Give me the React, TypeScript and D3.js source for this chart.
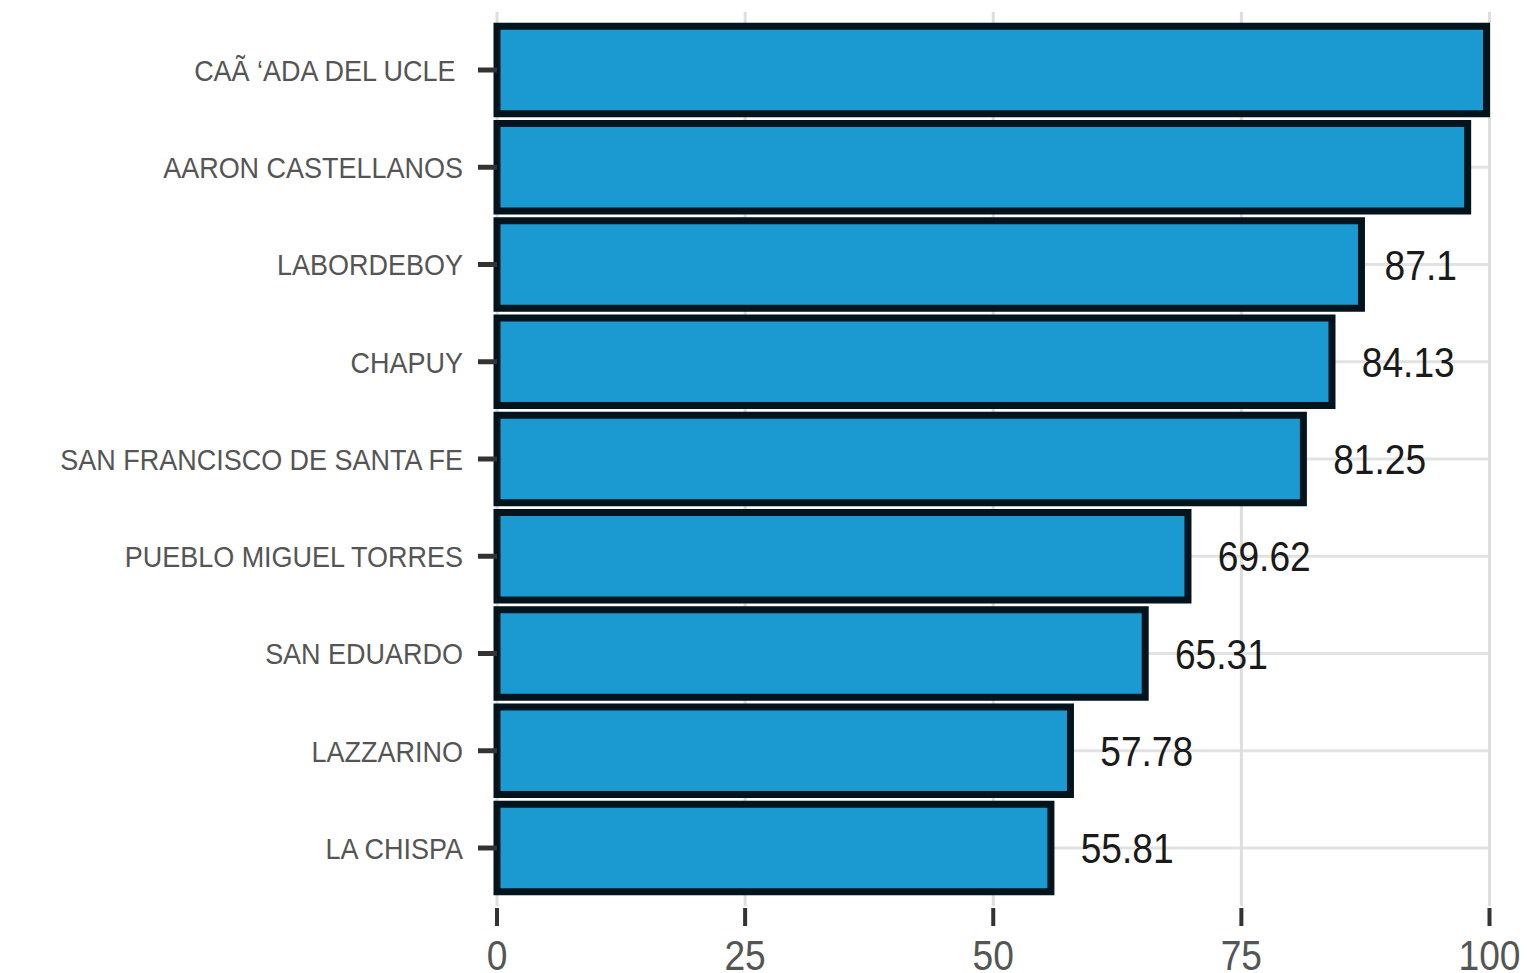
import React from "react";
import * as d3 from "d3";

const categories = [
  "CAÃ \u2018ADA DEL UCLE\u00A0",
  "AARON CASTELLANOS",
  "LABORDEBOY",
  "CHAPUY",
  "SAN FRANCISCO DE SANTA FE",
  "PUEBLO MIGUEL TORRES",
  "SAN EDUARDO",
  "LAZZARINO",
  "LA CHISPA",
];
const values = [99.7, 97.8, 87.1, 84.13, 81.25, 69.62, 65.31, 57.78, 55.81];
const xTicks = [0, 25, 50, 75, 100];

const W = 1527;
const H = 973;
const SX = 0.885;
const FONT = "'Liberation Sans', Arial, Helvetica, sans-serif";

function textWidth(s: string, size: number) {
  let w = 0;
  for (const c of s) w += c === "." ? 0.278 : 0.556;
  return w * size * SX;
}

export default function App() {
  const x = d3.scaleLinear().domain([0, 100]).range([497, 1489.5]);
  const y = d3
    .scaleBand<string>()
    .domain(categories)
    .range([11.65, 906.35])
    .paddingInner(0.1)
    .paddingOuter(0.15);
  const bw = y.bandwidth();
  const top = 11.65;
  const bottom = 906.35;
  const labelSize = 42;

  return (
    <svg
      width={W}
      height={H}
      style={{ position: "absolute", left: 0, top: 0, background: "#fff" }}
      fontFamily={FONT}
    >
      {/* grid */}
      {categories.map((c) => (
        <line
          key={"hg" + c}
          x1={x(0)}
          x2={x(100)}
          y1={y(c)! + bw / 2}
          y2={y(c)! + bw / 2}
          stroke="#e2e2e2"
          strokeWidth={3}
        />
      ))}
      {xTicks.map((t) => (
        <line key={"vg" + t} x1={x(t)} x2={x(t)} y1={top} y2={bottom} stroke="#dedede" strokeWidth={3} />
      ))}
      {/* bars */}
      {categories.map((c, i) => (
        <rect
          key={"b" + c}
          x={x(0)}
          y={y(c)!}
          width={x(values[i]) - x(0)}
          height={bw}
          fill="#1a9ad0"
          stroke="#03141c"
          strokeWidth={7}
        />
      ))}
      {/* value labels (those falling outside the panel are clipped away, as in the reference) */}
      {categories.map((c, i) => {
        const s = String(values[i]);
        const lx = x(values[i]) + 0.32 * textWidth(s, labelSize);
        if (lx + textWidth(s, labelSize) > x(100) + 5) return null;
        const ly = y(c)! + bw / 2 + labelSize * 0.36;
        return (
          <text
            key={"v" + c}
            transform={`translate(${lx},${ly}) scale(${SX},1)`}
            fontSize={labelSize}
            fill="#1a1a1a"
          >
            {s}
          </text>
        );
      })}
      {/* y axis ticks + labels */}
      {categories.map((c) => {
        const cy = y(c)! + bw / 2;
        return (
          <g key={"yl" + c}>
            <line x1={478} x2={x(0)} y1={cy} y2={cy} stroke="#333" strokeWidth={5} />
            <text
              transform={`translate(463,${cy + 30 * 0.36}) scale(0.9,1)`}
              fontSize={30}
              textAnchor="end"
              fill="#555"
              style={{ whiteSpace: "pre" }}
            >
              {c}
            </text>
          </g>
        );
      })}
      {/* x axis ticks + labels */}
      {xTicks.map((t) => (
        <g key={"xt" + t}>
          <line x1={x(t)} x2={x(t)} y1={908} y2={926} stroke="#333" strokeWidth={4} />
          <text
            transform={`translate(${x(t)},970) scale(${SX},1)`}
            fontSize={42}
            textAnchor="middle"
            fill="#555"
          >
            {t}
          </text>
        </g>
      ))}
    </svg>
  );
}
